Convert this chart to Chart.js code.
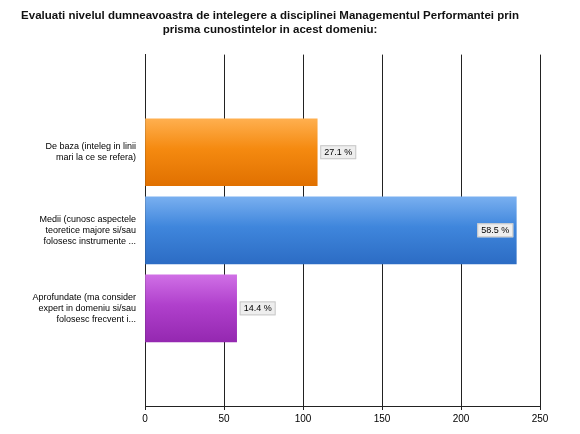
<!DOCTYPE html>
<html><head><meta charset="utf-8">
<script src="https://cdn.jsdelivr.net/npm/chart.js@4"></script>
<style>body{margin:0;background:#fff}#w{width:580px;height:434px}</style>
</head><body><div id="w"><canvas id="c"></canvas></div>
<script>
const categories=[["De baza (inteleg in linii","mari la ce se refera)"],["Medii (cunosc aspectele","teoretice majore si/sau","folosesc instrumente ..."],["Aprofundate (ma consider","expert in domeniu si/sau","folosesc frecvent i..."]];
const values=[109,235,58];
const percents=["27.1 %","58.5 %","14.4 %"];
const xTicks=[0,50,100,150,200,250];
const colors=[["#ffb050","#f58a10","#e07000"],["#7ab0f0","#3f86dc","#2c6cc4"],["#d070e6","#b040cc","#9428b0"]];
const F='Arial, Liberation Sans';
const lbl={id:'lbl',afterDatasetsDraw(ch){const ctx=ch.ctx;const m=ch.getDatasetMeta(0);ctx.save();ctx.font='9px '+F;ctx.textBaseline='middle';
m.data.forEach((b,i)=>{const t=percents[i];const w=ctx.measureText(t).width+8;let x=b.x+3;if(x+w>ch.chartArea.right)x=b.x-w-3;
ctx.fillStyle='#eeeeee';ctx.fillRect(x,b.y-7,w,14);ctx.strokeStyle='#c8c8c8';ctx.strokeRect(x+.5,b.y-6.5,w-1,13);ctx.fillStyle='#000';ctx.textAlign='left';ctx.fillText(t,x+4,b.y);
const L=categories[i];ctx.textAlign='right';ctx.font='9px '+F;L.forEach((s,j)=>ctx.fillText(s,ch.chartArea.left-9,b.y+(j-(L.length-1)/2)*11));ctx.font='9px '+F;});ctx.restore();}};
new Chart(document.getElementById('c'),{type:'bar',data:{datasets:[{data:values.map((v,i)=>({x:v,y:i})),
backgroundColor(c){const ch=c.chart;if(!ch.chartArea||!ch.scales.y)return colors[c.dataIndex][1];const i=c.dataIndex;const y=ch.scales.y.getPixelForValue(i);const g=ch.ctx.createLinearGradient(0,y-34,0,y+34);g.addColorStop(0,colors[i][0]);g.addColorStop(0.45,colors[i][1]);g.addColorStop(1,colors[i][2]);return g;},
borderWidth:0,barThickness:67}]},
options:{indexAxis:'y',responsive:true,maintainAspectRatio:false,animation:false,
layout:{padding:{left:0,right:40,top:2,bottom:6}},
plugins:{legend:{display:false},tooltip:{enabled:false},title:{display:true,text:["Evaluati nivelul dumneavoastra de intelegere a disciplinei Managementul Performantei prin","prisma cunostintelor in acest domeniu:"],color:'#111',font:{family:F,size:11.5,weight:'bold'},padding:{top:7,bottom:18}}},
scales:{x:{type:'linear',min:0,max:250,afterBuildTicks(s){s.ticks=xTicks.map(v=>({value:v}));},grid:{color:'#222',drawTicks:true,tickLength:4},border:{color:'#222'},ticks:{color:'#000',font:{family:F,size:10}}},
y:{type:'linear',min:-1,max:3,reverse:true,afterFit(s){s.width=145;},grid:{display:false},border:{color:'#222'},ticks:{display:false}}}},plugins:[lbl]});
</script></body></html>
